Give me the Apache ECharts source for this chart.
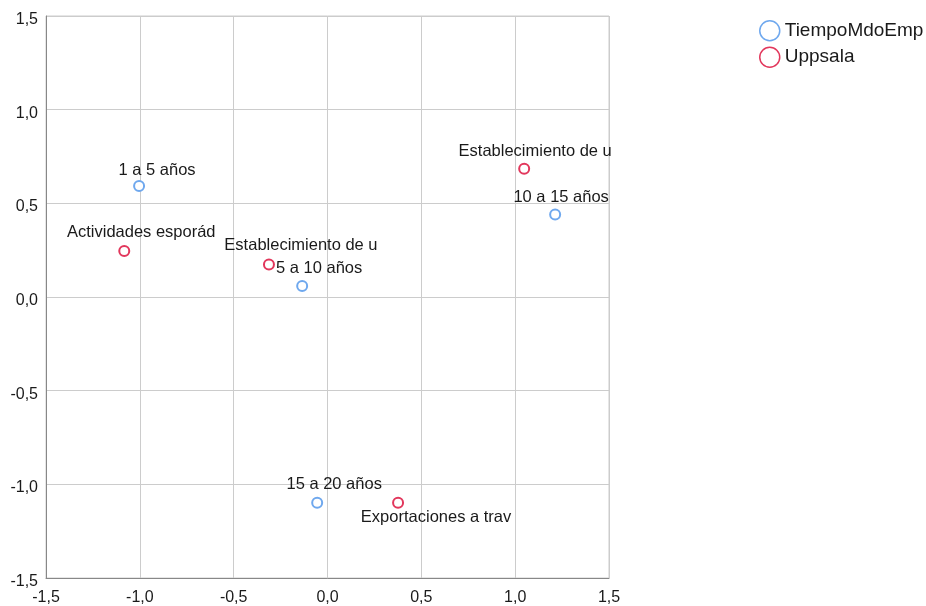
<!DOCTYPE html>
<html>
<head>
<meta charset="utf-8">
<script src="https://cdn.jsdelivr.net/npm/echarts@6/dist/echarts.min.js"></script>
<style>html,body{margin:0;padding:0;background:#fff}#c{width:926px;height:606px}</style>
</head>
<body>
<div id="c"></div>
<script>
const seriesNames = ['TiempoMdoEmp', 'Uppsala'];
const tiempoLabels = ['1 a 5 años', '5 a 10 años', '10 a 15 años', '15 a 20 años'];
const tiempoX = [-1.004, -0.135, 1.213, -0.055];
const tiempoY = [0.592, 0.059, 0.440, -1.098];
const uppsalaLabels = ['Actividades esporád', 'Establecimiento de u', 'Establecimiento de u', 'Exportaciones a trav'];
const uppsalaX = [-1.083, -0.312, 1.048, 0.376];
const uppsalaY = [0.245, 0.174, 0.685, -1.098];
const axisTicks = [-1.5, -1.0, -0.5, 0.0, 0.5, 1.0, 1.5];

// label pixel offsets (layout only)
const tiempoLabelOffsets = [[18, -16], [17, -17], [6, -17], [17, -18]];
const uppsalaLabelOffsets = [[17, -19], [32, -19], [11, -17], [38, 15]];

const blue = '#6fa8ee';
const red = '#e2375c';
const font = 'Liberation Sans, Arial, sans-serif';

function build(xs, ys, labels, offs) {
  return xs.map((x, i) => ({
    value: [x, ys[i]],
    name: labels[i],
    label: { offset: offs[i] }
  }));
}

const fmt = v => v.toFixed(1).replace('.', ',');

const labelStyle = {
  show: true, position: ['50%', '50%'], align: 'center', verticalAlign: 'middle',
  formatter: p => p.name,
  fontFamily: font, fontSize: 16.5, color: '#1a1a1a'
};

const chart = echarts.init(document.getElementById('c'));
chart.setOption({
  animation: false,
  backgroundColor: '#fff',
  grid: { left: 46, right: 317, top: 16, bottom: 28, show: true, borderColor: '#cccccc', borderWidth: 1 },
  legend: {
    orient: 'vertical',
    left: 754,
    top: 15,
    itemWidth: 20,
    itemHeight: 20,
    itemGap: 5,
    data: seriesNames,
    textStyle: { fontFamily: font, fontSize: 19, color: '#1a1a1a', padding: [0, 0, 0, 0] },
    itemStyle: { borderWidth: 1.5, opacity: 1 }
  },
  xAxis: {
    type: 'value', min: axisTicks[0], max: axisTicks[axisTicks.length - 1], interval: 0.5,
    axisLine: { show: true, onZero: false, lineStyle: { color: '#888', width: 1 } },
    axisTick: { show: false },
    splitLine: { show: true, lineStyle: { color: '#cccccc', width: 1 } },
    axisLabel: { formatter: fmt, fontFamily: font, fontSize: 16, color: '#1a1a1a', margin: 12 }
  },
  yAxis: {
    type: 'value', min: axisTicks[0], max: axisTicks[axisTicks.length - 1], interval: 0.5,
    axisLine: { show: true, onZero: false, lineStyle: { color: '#888', width: 1 } },
    axisTick: { show: false },
    splitLine: { show: true, lineStyle: { color: '#cccccc', width: 1 } },
    axisLabel: { formatter: fmt, fontFamily: font, fontSize: 16, color: '#1a1a1a', margin: 8, verticalAlign: 'top', lineHeight: 7 }
  },
  series: [
    {
      name: seriesNames[0], type: 'scatter', symbol: 'circle', symbolSize: 10,
      itemStyle: { color: '#fff', borderColor: blue, borderWidth: 2, opacity: 1 },
      label: labelStyle,
      data: build(tiempoX, tiempoY, tiempoLabels, tiempoLabelOffsets)
    },
    {
      name: seriesNames[1], type: 'scatter', symbol: 'circle', symbolSize: 10,
      itemStyle: { color: '#fff', borderColor: red, borderWidth: 2, opacity: 1 },
      label: labelStyle,
      data: build(uppsalaX, uppsalaY, uppsalaLabels, uppsalaLabelOffsets)
    }
  ]
});
</script>
</body>
</html>
